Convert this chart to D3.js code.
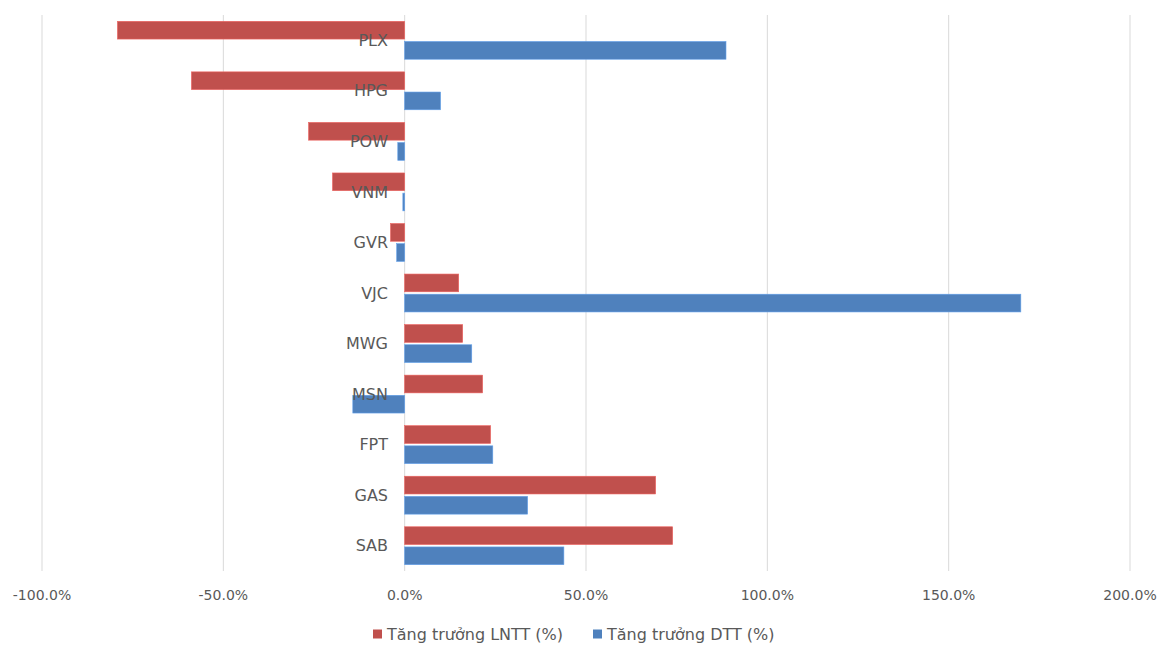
<!DOCTYPE html>
<html>
<head>
<meta charset="utf-8">
<script src="https://cdn.jsdelivr.net/npm/d3@7"></script>
<style>
  body { margin: 0; background: #fff; }
  text { font-family: "DejaVu Sans", Verdana, sans-serif; fill: #595959; }
</style>
</head>
<body>
<svg id="chart" width="1167" height="646"></svg>
<script>
// Dữ liệu
const categories = ['PLX', 'HPG', 'POW', 'VNM', 'GVR', 'VJC', 'MWG', 'MSN', 'FPT', 'GAS', 'SAB'];
const lnttGrowth = [-79.2, -58.8, -26.5, -19.9, -3.9, 14.9, 16.0, 21.5, 23.7, 69.2, 73.9];
const dttGrowth = [88.6, 9.9, -1.9, -0.5, -2.2, 169.9, 18.5, -14.3, 24.3, 33.9, 43.9];
const xTicks = [-100, -50, 0, 50, 100, 150, 200];
const seriesNames = ['Tăng trưởng LNTT (%)', 'Tăng trưởng DTT (%)'];
const seriesColors = ['#C0504D', '#4F81BD'];

const svg = d3.select('#chart');

const x = d3.scaleLinear().domain([-100, 200]).range([42, 1130]);
const y = d3.scaleBand().domain(categories).range([15, 571]).paddingInner(0.25).paddingOuter(0.125);
const sub = d3.scaleBand().domain([0, 1]).range([0, y.bandwidth()]).paddingInner(0.12);

// Đường lưới dọc
svg.append('g')
  .selectAll('line')
  .data(xTicks)
  .join('line')
  .attr('x1', d => x(d)).attr('x2', d => x(d))
  .attr('y1', 15).attr('y2', 571)
  .attr('stroke', '#d9d9d9')
  .attr('stroke-width', 1);

// Nhãn trục x (dùng dấu gạch nối như bản gốc)
svg.append('g')
  .selectAll('text')
  .data(xTicks)
  .join('text')
  .attr('x', d => x(d))
  .attr('y', 595)
  .attr('dy', '0.35em')
  .attr('text-anchor', 'middle')
  .style('font-size', '14px')
  .text(d => d.toFixed(1) + '%');

// Các cột
const series = [lnttGrowth, dttGrowth];
series.forEach(function(vals, si) {
  svg.append('g')
    .selectAll('rect')
    .data(vals)
    .join('rect')
    .attr('x', d => x(Math.min(0, d)))
    .attr('width', d => Math.abs(x(d) - x(0)))
    .attr('y', (d, i) => y(categories[i]) + sub(si))
    .attr('height', sub.bandwidth())
    .attr('fill', seriesColors[si])
    .attr('stroke', d3.color(seriesColors[si]).brighter(0.6))
    .attr('stroke-width', 0.6);
});

// Nhãn danh mục
svg.append('g')
  .selectAll('text')
  .data(categories)
  .join('text')
  .attr('x', 388)
  .attr('y', d => y(d) + y.bandwidth() / 2)
  .attr('dy', '0.35em')
  .attr('text-anchor', 'end')
  .style('font-size', '16px')
  .text(d => d);

// Chú thích
const legendX = [373, 593];
const legend = svg.append('g')
  .selectAll('g')
  .data(seriesNames)
  .join('g')
  .attr('transform', (d, i) => `translate(${legendX[i]},634)`);
legend.append('rect')
  .attr('x', 0).attr('y', -4.5)
  .attr('width', 9).attr('height', 9)
  .attr('fill', (d, i) => seriesColors[i]);
legend.append('text')
  .attr('x', 14)
  .attr('dy', '0.35em')
  .style('font-size', '16px')
  .text(d => d);
</script>
</body>
</html>
